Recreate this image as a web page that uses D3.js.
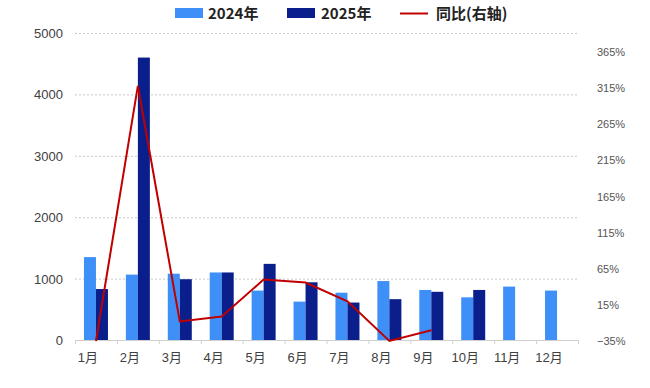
<!DOCTYPE html>
<html>
<head>
<meta charset="utf-8">
<script src="https://cdn.jsdelivr.net/npm/d3@7"></script>
<style>
  body { margin: 0; background: #fff; }
  text { font-family: "Liberation Sans", "Noto Sans CJK SC", sans-serif; }
  .legend text { font-family: "Noto Sans CJK SC", sans-serif; }
</style>
</head>
<body>
<div id="chart"></div>
<script>
const months = ["1月", "2月", "3月", "4月", "5月", "6月", "7月", "8月", "9月", "10月", "11月", "12月"];
const values2024 = [1350, 1065, 1080, 1100, 805, 625, 770, 960, 815, 695, 870, 805];
const values2025 = [830, 4600, 990, 1100, 1240, 940, 610, 665, 785, 815];
const yoy = [-38, 318, -8, -1, 50, 46, 20, -35, -20];
const leftTicks = [0, 1000, 2000, 3000, 4000, 5000];
const rightTicks = [-35, 15, 65, 115, 165, 215, 265, 315, 365];

const width = 650, height = 388;
const x0 = 75, x1 = 578, yBase = 340, yTop = 33;

const svg = d3.select("#chart")
  .append("svg")
  .attr("width", width)
  .attr("height", height);

const xScale = d3.scaleBand()
  .domain(months)
  .range([x0, x1]);

const yLeft = d3.scaleLinear()
  .domain([0, 5000])
  .range([yBase, yTop]);

const yRight = d3.scaleLinear()
  .domain([-35, 365])
  .range([yBase + 1, 52]);

// grid lines
svg.selectAll(".grid")
  .data(leftTicks.slice(1))
  .enter()
  .append("line")
  .attr("x1", x0)
  .attr("x2", x1)
  .attr("y1", d => yLeft(d) + 0.5)
  .attr("y2", d => yLeft(d) + 0.5)
  .attr("stroke", "#c8c8c8")
  .attr("stroke-dasharray", "2,2");

// left axis labels
svg.selectAll(".ltick")
  .data(leftTicks)
  .enter()
  .append("text")
  .attr("x", 63)
  .attr("y", d => yLeft(d) + 5)
  .attr("text-anchor", "end")
  .attr("font-size", 13)
  .attr("fill", "#404040")
  .text(d => d);

// right axis labels
svg.selectAll(".rtick")
  .data(rightTicks)
  .enter()
  .append("text")
  .attr("x", 597)
  .attr("y", d => yRight(d) + 4)
  .attr("font-size", 11)
  .attr("fill", "#555")
  .text(d => (d < 0 ? "\u2212" + Math.abs(d) : d) + "%");

const half = 12;

// 2024 bars
svg.selectAll(".bar2024")
  .data(values2024)
  .enter()
  .append("rect")
  .attr("x", (d, i) => xScale(months[i]) + xScale.bandwidth() / 2 - half)
  .attr("y", d => yLeft(d))
  .attr("width", half)
  .attr("height", d => yBase - yLeft(d))
  .attr("fill", "#3f8ff8");

// 2025 bars
svg.selectAll(".bar2025")
  .data(values2025)
  .enter()
  .append("rect")
  .attr("x", (d, i) => xScale(months[i]) + xScale.bandwidth() / 2)
  .attr("y", d => yLeft(d))
  .attr("width", half)
  .attr("height", d => yBase - yLeft(d))
  .attr("fill", "#0a1f8c");

// x axis line + ticks
svg.append("line")
  .attr("x1", x0).attr("x2", x1)
  .attr("y1", yBase + 0.5).attr("y2", yBase + 0.5)
  .attr("stroke", "#d0d0d0");

svg.selectAll(".xtick")
  .data(months.concat(["end"]))
  .enter()
  .append("line")
  .attr("x1", (d, i) => x0 + i * xScale.bandwidth() + 0.5)
  .attr("x2", (d, i) => x0 + i * xScale.bandwidth() + 0.5)
  .attr("y1", yBase)
  .attr("y2", yBase + 4)
  .attr("stroke", "#d0d0d0");

svg.selectAll(".xlabel")
  .data(months)
  .enter()
  .append("text")
  .attr("x", d => xScale(d) + xScale.bandwidth() / 2 - 8)
  .attr("y", 362)
  .attr("text-anchor", "middle")
  .attr("font-size", 13)
  .attr("fill", "#404040")
  .text(d => d);

// yoy line
const line = d3.line()
  .x((d, i) => xScale(months[i]) + xScale.bandwidth() / 2)
  .y(d => Math.min(yRight(d), yBase + 1));

svg.append("path")
  .datum(yoy)
  .attr("d", line)
  .attr("fill", "none")
  .attr("stroke", "#c00000")
  .attr("stroke-width", 2);

// legend
const legend = svg.append("g").attr("class", "legend");
legend.append("rect").attr("x", 175).attr("y", 8).attr("width", 28).attr("height", 10).attr("fill", "#3f8ff8");
legend.append("text").attr("x", 208).attr("y", 19).attr("font-size", 15).attr("font-weight", "bold").attr("fill", "#222").text("2024年");
legend.append("rect").attr("x", 287).attr("y", 8).attr("width", 28).attr("height", 10).attr("fill", "#0a1f8c");
legend.append("text").attr("x", 321).attr("y", 19).attr("font-size", 15).attr("font-weight", "bold").attr("fill", "#222").text("2025年");
legend.append("line").attr("x1", 400).attr("x2", 428).attr("y1", 13.5).attr("y2", 13.5).attr("stroke", "#c00000").attr("stroke-width", 2);
legend.append("text").attr("x", 436).attr("y", 19).attr("font-size", 15).attr("font-weight", "bold").attr("fill", "#222").text("同比(右轴)");
</script>
</body>
</html>
